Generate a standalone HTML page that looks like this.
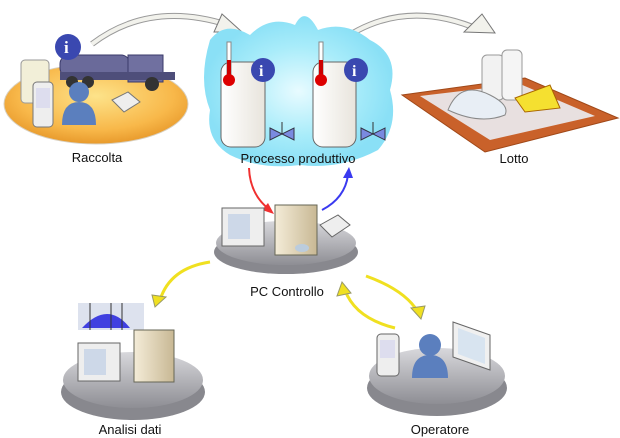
<!DOCTYPE html>
<html><head><meta charset="utf-8"><style>
html,body{margin:0;padding:0;background:#fff;}
svg{display:block;}
text{font-family:"Liberation Sans",sans-serif;font-size:13px;fill:#111;}
</style></head><body>
<svg width="620" height="438" viewBox="0 0 620 438" xmlns="http://www.w3.org/2000/svg">
<defs>
<radialGradient id="yel" cx="50%" cy="40%" r="60%"><stop offset="0" stop-color="#fde38a"/><stop offset="0.7" stop-color="#f8b84a"/><stop offset="1" stop-color="#e89a2c"/></radialGradient>
<radialGradient id="blu" cx="50%" cy="50%" r="50%"><stop offset="0" stop-color="#e8fbff"/><stop offset="0.6" stop-color="#a8ecfa"/><stop offset="1" stop-color="#8ae0f6"/></radialGradient>
<linearGradient id="plat" x1="0" y1="0" x2="0" y2="1"><stop offset="0" stop-color="#d8d8dc"/><stop offset="1" stop-color="#8e8e94"/></linearGradient>
<linearGradient id="tank" x1="0" y1="0" x2="1" y2="0"><stop offset="0" stop-color="#fff"/><stop offset="1" stop-color="#e8e4dc"/></linearGradient>
<linearGradient id="beige" x1="0" y1="0" x2="1" y2="0"><stop offset="0" stop-color="#f4ecd8"/><stop offset="1" stop-color="#c8b894"/></linearGradient>
</defs>

<!-- gray curved arrows -->
<path d="M92,44 Q150,0 228,25" fill="none" stroke="#9a9a9a" stroke-width="6"/>
<path d="M92,44 Q150,0 228,25" fill="none" stroke="#f2f2ec" stroke-width="4"/>
<polygon points="222,14 242,32 214,32" fill="#f2f2ec" stroke="#777"/>
<path d="M335,45 Q400,-5 480,30" fill="none" stroke="#9a9a9a" stroke-width="6"/>
<path d="M335,45 Q400,-5 480,30" fill="none" stroke="#f2f2ec" stroke-width="4"/>
<polygon points="482,14 495,33 464,32" fill="#f2f2ec" stroke="#777"/>

<!-- Raccolta -->
<ellipse cx="96" cy="104" rx="92" ry="40" fill="url(#yel)" stroke="#d8d0c0"/>
<rect x="60" y="55" width="70" height="22" rx="9" fill="#6a6a9a" stroke="#3a3a6a"/>
<rect x="128" y="55" width="35" height="27" fill="#7070a0" stroke="#3a3a6a"/>
<rect x="60" y="72" width="115" height="8" fill="#4e4e7a"/>
<circle cx="72" cy="82" r="6" fill="#333"/><circle cx="88" cy="82" r="6" fill="#333"/><circle cx="152" cy="84" r="7" fill="#333"/>
<circle cx="68" cy="47" r="13" fill="#3a48b0"/><text x="64" y="53" style="fill:#fff;font-weight:bold;font-size:17px;font-family:'Liberation Serif',serif">i</text>
<rect x="21" y="60" width="28" height="43" rx="4" fill="#f2efd8" stroke="#999"/>
<rect x="33" y="82" width="20" height="45" rx="4" fill="#eee" stroke="#777"/><rect x="36" y="88" width="14" height="20" fill="#dde"/>
<circle cx="79" cy="92" r="10" fill="#5b7fbe"/><path d="M62,125 Q62,102 79,102 Q96,102 96,125 Z" fill="#5b7fbe"/>
<polygon points="112,100 128,92 140,102 124,112" fill="#eee" stroke="#777"/>
<text x="97" y="162" text-anchor="middle">Raccolta</text>

<!-- Processo -->
<path d="M210,40 Q225,20 250,35 Q270,15 295,25 Q305,5 318,30 Q345,20 370,40 Q400,55 390,90 Q400,125 378,150 Q340,170 300,165 Q260,170 230,155 Q205,140 210,110 Q198,80 210,40Z" fill="url(#blu)"/>
<rect x="221" y="62" width="44" height="85" rx="10" fill="url(#tank)" stroke="#666"/>
<rect x="313" y="62" width="43" height="85" rx="10" fill="url(#tank)" stroke="#666"/>
<rect x="227" y="42" width="4" height="35" fill="#fff" stroke="#888"/><rect x="227" y="60" width="4" height="18" fill="#c00"/><circle cx="229" cy="80" r="6" fill="#d00"/>
<rect x="319" y="42" width="4" height="35" fill="#fff" stroke="#888"/><rect x="319" y="60" width="4" height="18" fill="#c00"/><circle cx="321" cy="80" r="6" fill="#d00"/>
<circle cx="263" cy="70" r="12" fill="#3a48b0"/><text x="259" y="76" style="fill:#fff;font-weight:bold;font-size:16px;font-family:'Liberation Serif',serif">i</text>
<circle cx="356" cy="70" r="12" fill="#3a48b0"/><text x="352" y="76" style="fill:#fff;font-weight:bold;font-size:16px;font-family:'Liberation Serif',serif">i</text>
<polygon points="270,128 294,140 294,128 270,140" fill="#7a8ae0" stroke="#334"/><line x1="282" y1="134" x2="282" y2="122" stroke="#333"/>
<polygon points="361,128 385,140 385,128 361,140" fill="#7a8ae0" stroke="#334"/><line x1="373" y1="134" x2="373" y2="122" stroke="#333"/>
<text x="298" y="163" text-anchor="middle">Processo produttivo</text>

<!-- Lotto -->
<polygon points="402,95 525,78 618,118 485,152" fill="#c9612a" stroke="#a04818"/>
<polygon points="420,96 520,84 595,116 490,140" fill="#e8e0e0"/>
<rect x="482" y="55" width="22" height="45" rx="5" fill="#f2f2f2" stroke="#999"/>
<rect x="502" y="50" width="20" height="50" rx="5" fill="#f5f5f5" stroke="#999"/>
<path d="M448,110 Q460,80 490,95 Q510,105 505,115 Q480,125 448,110Z" fill="#e8eef5" stroke="#888"/>
<polygon points="515,98 550,85 560,108 525,112" fill="#f5e030" stroke="#a60"/>
<text x="514" y="163" text-anchor="middle">Lotto</text>

<!-- red/blue arrows -->
<path d="M249,168 Q250,195 270,210" fill="none" stroke="#f03030" stroke-width="2"/><polygon points="274,214 262,210 268,203" fill="#f03030"/>
<path d="M322,210 Q345,198 348,175" fill="none" stroke="#3a3af0" stroke-width="2"/><polygon points="349,167 343,178 353,178" fill="#3a3af0"/>

<!-- PC Controllo -->
<ellipse cx="286" cy="252" rx="72" ry="22" fill="#88888e"/>
<ellipse cx="286" cy="243" rx="70" ry="22" fill="url(#plat)"/>
<rect x="222" y="208" width="42" height="38" fill="#eee" stroke="#666"/><rect x="228" y="214" width="22" height="25" fill="#cdd8e8"/>
<rect x="275" y="205" width="42" height="50" fill="url(#beige)" stroke="#665"/>
<ellipse cx="302" cy="248" rx="7" ry="4" fill="#bcd"/>
<polygon points="320,225 338,215 350,225 332,237" fill="#eee" stroke="#666"/>
<text x="287" y="296" text-anchor="middle">PC Controllo</text>

<!-- yellow arrows -->
<path d="M210,262 Q170,268 160,300" fill="none" stroke="#f0e020" stroke-width="3"/><polygon points="155,307 152,295 166,297" fill="#f0e020" stroke="#996"/>
<path d="M366,276 Q405,290 418,312" fill="none" stroke="#f0e020" stroke-width="3"/><polygon points="421,319 411,308 425,306" fill="#f0e020" stroke="#996"/>
<path d="M395,328 Q355,318 345,290" fill="none" stroke="#f0e020" stroke-width="3"/><polygon points="342,282 337,296 351,293" fill="#f0e020" stroke="#996"/>

<!-- Analisi dati -->
<ellipse cx="133" cy="392" rx="72" ry="28" fill="#88888e"/>
<ellipse cx="133" cy="380" rx="70" ry="28" fill="url(#plat)"/>
<rect x="78" y="303" width="66" height="27" fill="#dde2ee"/><path d="M82,328 Q108,300 130,328Z" fill="#4040e0"/>
<line x1="90" y1="303" x2="90" y2="330" stroke="#333"/><line x1="111" y1="303" x2="111" y2="330" stroke="#333"/><line x1="122" y1="303" x2="122" y2="330" stroke="#333"/>
<rect x="78" y="343" width="42" height="38" fill="#eee" stroke="#666"/><rect x="84" y="349" width="22" height="26" fill="#cdd8e8"/>
<rect x="134" y="330" width="40" height="52" fill="url(#beige)" stroke="#665"/>
<text x="130" y="434" text-anchor="middle">Analisi dati</text>

<!-- Operatore -->
<ellipse cx="437" cy="388" rx="70" ry="28" fill="#88888e"/>
<ellipse cx="437" cy="376" rx="68" ry="28" fill="url(#plat)"/>
<rect x="377" y="334" width="22" height="42" rx="4" fill="#eee" stroke="#666"/><rect x="380" y="340" width="15" height="18" fill="#dde"/>
<circle cx="430" cy="345" r="11" fill="#5b7fbe"/><path d="M412,378 Q412,355 430,355 Q448,355 448,378Z" fill="#5b7fbe"/>
<polygon points="453,322 490,335 490,370 453,357" fill="#f0f0f0" stroke="#666"/><polygon points="458,328 485,338 485,364 458,354" fill="#d8e4f0"/>
<text x="440" y="434" text-anchor="middle">Operatore</text>
</svg>
</body></html>
